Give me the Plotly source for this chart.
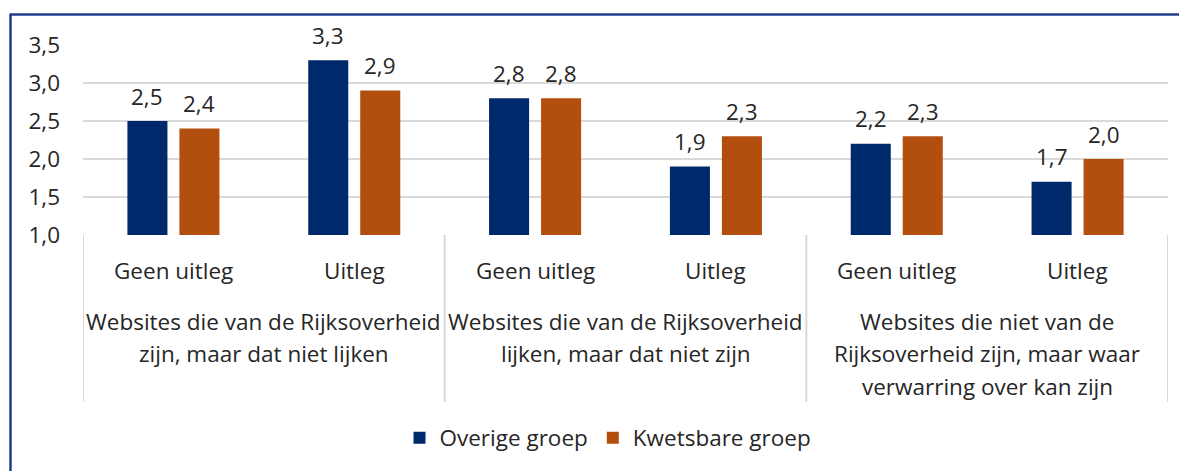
import plotly.graph_objects as go

# ---- data ----
subcats = ["Geen uitleg", "Uitleg", "Geen uitleg", "Uitleg", "Geen uitleg", "Uitleg"]
groups = [
    ["Websites die van de Rijksoverheid", "zijn, maar dat niet lijken"],
    ["Websites die van de Rijksoverheid", "lijken, maar dat niet zijn"],
    ["Websites die niet van de", "Rijksoverheid zijn, maar waar", "verwarring over kan zijn"],
]
overige = [2.5, 3.3, 2.8, 1.9, 2.2, 1.7]
kwetsbaar = [2.4, 2.9, 2.8, 2.3, 2.3, 2.0]
series_names = ["Overige groep", "Kwetsbare groep"]
colors = ["#00296B", "#B24F0E"]
y_ticks = [1.0, 1.5, 2.0, 2.5, 3.0, 3.5]

FONT = "Open Sans"
TXT = "#262626"
FS = 22.5

OFF = 8  # page body margin
W, H = 1187, 471
L, T = 83 - OFF, 45 - OFF
R = W - (1168 - OFF)
B = H - (235 - OFF)
PH = H - T - B
PW = W - L - R

def py(px):  # page pixel y -> paper y
    return (H - B - (px - OFF)) / PH

def pxx(px):  # page pixel x -> paper x
    return ((px - OFF) - L) / PW

xs = list(range(len(subcats)))

fig = go.Figure()
for name, vals, col in zip(series_names, [overige, kwetsbaar], colors):
    fig.add_trace(go.Bar(x=xs, y=vals, name=name, marker_color=col,
                         marker_line_width=0, hoverinfo="skip"))

# value labels
annotations = []
for k, vals in enumerate([overige, kwetsbaar]):
    shift = -26 if k == 0 else 26
    for i, v in enumerate(vals):
        annotations.append(dict(x=xs[i], y=v, xref="x", yref="y", xshift=shift,
                                yshift=25, yanchor="middle", showarrow=False,
                                text=f"{v:.1f}".replace(".", ","),
                                font=dict(family=FONT, size=FS, color=TXT)))

# sub-category labels
for i, s in enumerate(subcats):
    annotations.append(dict(x=xs[i], y=py(270), xref="x", yref="paper",
                            yanchor="middle", showarrow=False, text=s,
                            font=dict(family=FONT, size=FS, color=TXT)))

# group labels
for g, lines in enumerate(groups):
    for j, line in enumerate(lines):
        annotations.append(dict(x=2 * g + 0.5, y=py(321 + 32.5 * j), xref="x", yref="paper",
                                yanchor="middle", showarrow=False, text=line,
                                font=dict(family=FONT, size=FS, color=TXT)))

# cut-off title at top
annotations.append(dict(x=pxx(-12), y=py(9), xref="paper", yref="paper",
                        xanchor="left", yanchor="bottom", showarrow=False,
                        text="Oordeel per groep",
                        font=dict(family=FONT, size=20, color="#2F5496")))

shapes = []
for xb in [-0.5, 1.5, 3.5, 5.5]:
    shapes.append(dict(type="line", xref="x", yref="paper", x0=xb, x1=xb,
                       y0=0, y1=py(402), line=dict(color="#D9D9D9", width=2)))
# outer blue frame
shapes.append(dict(type="line", xref="paper", yref="paper", x0=pxx(10.5), x1=pxx(10.5),
                   y0=py(14.5), y1=py(520), line=dict(color="#1F3D8A", width=2.5)))
shapes.append(dict(type="line", xref="paper", yref="paper", x0=pxx(9.5), x1=pxx(1250),
                   y0=py(14.5), y1=py(14.5), line=dict(color="#1F3D8A", width=2.5)))

fig.update_layout(
    width=W, height=H,
    margin=dict(l=L, r=R, t=T, b=B, autoexpand=False),
    paper_bgcolor="white", plot_bgcolor="white",
    barmode="group", bargap=0.425, bargroupgap=0.23,
    separators=",.",
    font=dict(family=FONT, size=FS, color=TXT),
    showlegend=True,
    legend=dict(orientation="h", x=pxx(608), xanchor="center", y=py(438),
                yanchor="middle", font=dict(family=FONT, size=FS, color=TXT),
                itemwidth=30, traceorder="normal"),
    annotations=annotations,
    shapes=shapes,
)
fig.update_xaxes(range=[-0.5, 5.5], showticklabels=False, showgrid=False,
                 zeroline=False, showline=False, ticks="")
fig.update_yaxes(range=[1.0, 3.5], tickvals=y_ticks, tickformat=".1f",
                 showgrid=True, gridcolor="#D9D9D9", gridwidth=2,
                 zeroline=False, showline=False, ticks="", ticklabelstandoff=22,
                 tickfont=dict(family=FONT, size=FS, color=TXT))

fig.write_html("out.html")
